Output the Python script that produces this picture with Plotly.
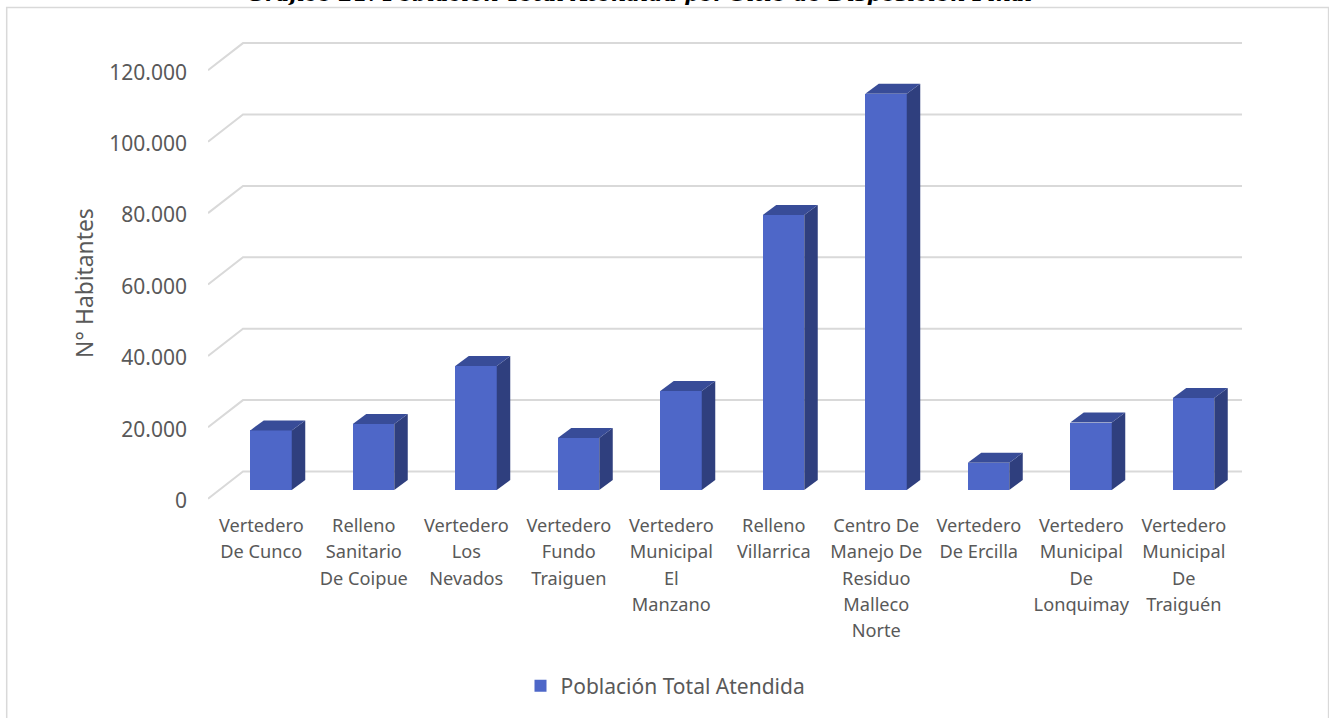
import plotly.graph_objects as go

categories = [
    ["Vertedero", "De Cunco"],
    ["Relleno", "Sanitario", "De Coipue"],
    ["Vertedero", "Los", "Nevados"],
    ["Vertedero", "Fundo", "Traiguen"],
    ["Vertedero", "Municipal", "El", "Manzano"],
    ["Relleno", "Villarrica"],
    ["Centro De", "Manejo De", "Residuo", "Malleco", "Norte"],
    ["Vertedero", "De Ercilla"],
    ["Vertedero", "Municipal", "De", "Lonquimay"],
    ["Vertedero", "Municipal", "De", "Traiguén"],
]
values = [16700, 18500, 34700, 14600, 27700, 77000, 111000, 7600, 18900, 25800]
ytick_values = [0, 20000, 40000, 60000, 80000, 100000, 120000]
ytick_labels = ["0", "20.000", "40.000", "60.000", "80.000", "100.000", "120.000"]
series_name = "Población Total Atendida"
title_text = "Gráfico 21: Población Total Atendida por Sitio de Disposición Final"
y_title = "N° Habitantes"

W, H = 1329, 718
L, R, T, B = 208, 1242, 30, 500      # plot area in px
PITCH = 102.5
PX_PER_UNIT = 71.4 / 20000
FRONT_ZERO_PX, BAR_ZERO_PX = 498.7, 490
LABEL_X0, BAR_X0 = 261.3, 271

FRONT = "#4E67C8"
TOP = "#384C98"
SIDE = "#2F3F7E"
GRID = "#D9D9D9"
TEXT = "#595959"
FONT = "Noto Sans"

def xr(x0):
    return [(L - x0) / PITCH, (R - x0) / PITCH]

def yr(zero):
    return [(zero - B) / PX_PER_UNIT, (zero - T) / PX_PER_UNIT]

fig = go.Figure()

# back-wall gridlines, drawn in the front-plane scale with a perspective offset
wall_dx, wall_dy = 35 / PITCH, 27.2 / PX_PER_UNIT
xa = xr(LABEL_X0)
gx, gy = [], []
for v in ytick_values:
    gx += [xa[0], xa[0] + wall_dx, xa[1], None]
    gy += [v, v + wall_dy, v + wall_dy, None]
fig.add_trace(go.Scatter(x=gx, y=gy, mode="lines", line=dict(color=GRID, width=2),
                         showlegend=False, hoverinfo="skip", xaxis="x", yaxis="y"))

idx = list(range(len(values)))
bw = 41.5 / PITCH
dx, dy = 13.5 / PITCH, 10 / PX_PER_UNIT

fig.add_trace(go.Bar(x=idx, y=values, width=bw, name=series_name,
                     marker=dict(color=FRONT, line=dict(width=0)),
                     xaxis="x2", yaxis="y2"))
for i, v in zip(idx, values):
    r, l = i + bw / 2, i - bw / 2
    fig.add_trace(go.Scatter(x=[r, r + dx, r + dx, r, r], y=[0, dy, v + dy, v, 0],
                             mode="lines", fill="toself", fillcolor=SIDE, line=dict(width=0),
                             showlegend=False, hoverinfo="skip", xaxis="x2", yaxis="y2"))
    fig.add_trace(go.Scatter(x=[l, l + dx, r + dx, r, l], y=[v, v + dy, v + dy, v, v],
                             mode="lines", fill="toself", fillcolor=TOP, line=dict(width=0),
                             showlegend=False, hoverinfo="skip", xaxis="x2", yaxis="y2"))

# Line spacing follows the tick font size; the span sets the glyph size
ticktext = ["<br>".join(f'<span style="font-size:18.2px">{w}</span>' for w in c) for c in categories]

pw, ph = R - L, B - T
fig.update_layout(
    width=W, height=H, autosize=False,
    margin=dict(l=L, r=W - R, t=T, b=H - B),
    paper_bgcolor="white", plot_bgcolor="rgba(0,0,0,0)",
    font=dict(family=FONT, color=TEXT),
    bargap=0,
    xaxis=dict(range=xa, tickmode="array", tickvals=idx, ticktext=ticktext,
               showgrid=False, zeroline=False, showline=False, ticks="",
               tickangle=0, ticklabelstandoff=11,
               tickfont=dict(family=FONT, size=20.2, color=TEXT)),
    yaxis=dict(range=yr(FRONT_ZERO_PX), tickmode="array", tickvals=ytick_values, ticktext=ytick_labels,
               showgrid=False, zeroline=False, showline=False, ticks="", ticklabelstandoff=20,
               ticklabelshift=2,
               tickfont=dict(family=FONT, size=21, color=TEXT)),
    xaxis2=dict(range=xr(BAR_X0), overlaying="x", visible=False),
    yaxis2=dict(range=yr(BAR_ZERO_PX), overlaying="y", visible=False),
    legend=dict(orientation="h", x=(665.5 - L) / pw, xanchor="center",
                y=(B - 686) / ph, yanchor="middle", bgcolor="rgba(0,0,0,0)",
                font=dict(family=FONT, size=21, color=TEXT)),
    shapes=[dict(type="rect", xref="paper", yref="paper",
                 x0=(6.7 - L) / pw, x1=(1328.6 - L) / pw,
                 y0=(B - 740) / ph, y1=(B - 7.5) / ph,
                 line=dict(color=GRID, width=1.5), fillcolor="rgba(0,0,0,0)", layer="below")],
    annotations=[
        dict(text=f"<b><i>{title_text}</i></b>", xref="paper", yref="paper",
             x=(640 - L) / pw, y=(B + 3) / ph, xanchor="center", yanchor="bottom", yshift=-11,
             showarrow=False, font=dict(family="DejaVu Serif", size=21, color="#000000")),
        dict(text=y_title, xref="paper", yref="paper", x=(84 - L) / pw, y=(B - 283) / ph,
             xanchor="center", yanchor="middle", textangle=-90, showarrow=False,
             font=dict(family=FONT, size=22.8, color=TEXT)),
    ],
)

fig.write_html("out.html", config=dict(displayModeBar=False),
               post_script="document.body.style.margin='0';document.documentElement.style.overflow='hidden';")
